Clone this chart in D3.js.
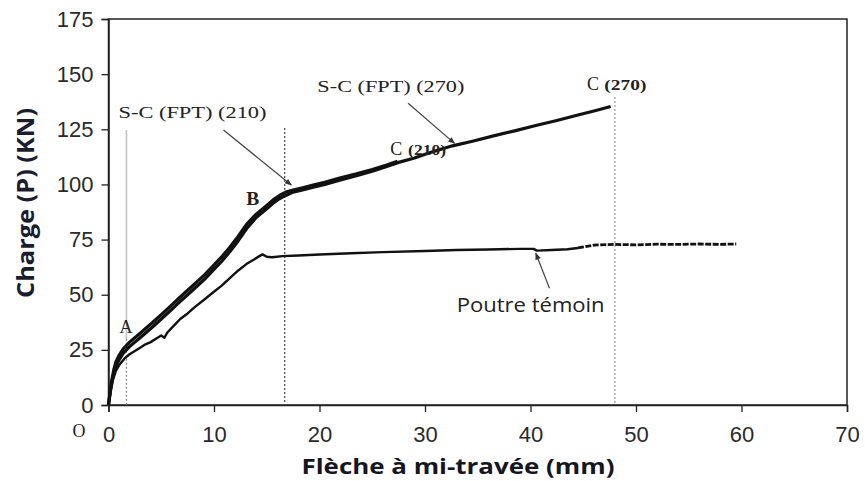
<!DOCTYPE html>
<html>
<head>
<meta charset="utf-8">
<script src="https://cdn.jsdelivr.net/npm/d3@7"></script>
<style>
  html, body { margin: 0; padding: 0; background: #fff; }
  svg { display: block; }
</style>
</head>
<body>
<svg id="chart" width="865" height="481"></svg>
<script>
// ---------- DATA ----------
const xTicks = [0, 10, 20, 30, 40, 50, 60, 70];
const yTicks = [0, 25, 50, 75, 100, 125, 150, 175];

// S-C (FPT) (210)
const defl210 = [0,0.15,0.3,0.5,0.7,1,1.4,2,2.5,3,3.6,4.2,5,5.8,6.7,7.5,8.3,9.1,9.9,10.7,11.5,12.3,13.1,14,15,15.6,16.2,16.8,17.5,18.4,19.4,20.5,22,23.5,25,26.3,27.4];
const load210 = [0,6,11,16,19.5,22.5,25.5,28.5,30.5,32.5,35,37.5,41,44.5,48.5,52,55.5,59,63,67,71.5,76.5,82,86.5,90.5,93,95,96.5,97.5,98.5,99.7,101,103,104.8,106.8,108.7,110.5];

// S-C (FPT) (270)
const defl270 = [0,0.2,0.4,0.7,1,1.4,2,2.5,3,3.6,4.2,5,5.8,6.7,7.5,8.3,9.1,9.9,10.7,11.5,12.3,13.1,14,15,15.6,16.2,16.8,17.5,18.4,19.4,20.5,22,23.5,25,26.3,27.5,29,30.5,32.6,34.5,36.5,38.5,40.5,42.5,44.5,46.2,47.6];
const load270 = [0,7,12.5,17.5,20.5,23.5,26.5,28.5,30.5,33,35.5,39,42.5,46.5,50,53.5,57,61,65,69.5,74.5,80,85,89,91.5,93.5,95,96.5,97.5,98.7,100,102,104,106,108,110,112,114.5,117.5,119.6,122,124.3,126.7,129,131.5,133.5,135.3];

// Poutre témoin (solid part)
const deflCtrl = [0,0.2,0.4,0.7,1,1.5,2,2.5,3,3.5,4,4.5,5,5.3,5.6,6.2,6.8,7.5,8.2,9,9.9,10.7,11.5,12.3,13.1,13.8,14.3,14.6,15,15.5,16.5,18,20,23,26,30,33,36,39,40.3,40.6,42,43.5,44.5];
const loadCtrl = [0,6,11,15.5,18,21,23,24.5,26,27.5,28.5,30,31.5,30.5,33,36,39,41.5,44.5,47.5,51,54,57.5,61,64,66,67.5,68.3,67.2,67,67.5,67.8,68.2,68.8,69.3,69.8,70.3,70.5,70.8,70.8,70,70.3,70.6,71.2];
// Poutre témoin (broken end part)
const deflCtrlEnd = [44.5,46,48,50,52,54,56,58,59.5];
const loadCtrlEnd = [71.2,72.5,72.8,72.6,72.9,72.8,73,72.8,73];

// ---------- CHART ----------
const svg = d3.select("#chart");
const x = d3.scaleLinear().domain([0, 70]).range([108.5, 847]);
const y = d3.scaleLinear().domain([0, 175]).range([405, 19]);

const ink = "#222";

// frame
svg.append("rect")
  .attr("x", x(0)).attr("y", y(175))
  .attr("width", x(70) - x(0)).attr("height", y(0) - y(175))
  .attr("fill", "none").attr("stroke", ink).attr("stroke-width", 1.5);

// axes
const xAxis = d3.axisBottom(x).tickValues(xTicks).tickSize(7).tickPadding(14).tickFormat(d3.format("d"));
const yAxis = d3.axisLeft(y).tickValues(yTicks).tickSize(7).tickPadding(8).tickFormat(d3.format("d"));

const gx = svg.append("g").attr("transform", `translate(0,${y(0)})`).call(xAxis);
const gy = svg.append("g").attr("transform", `translate(${x(0)},0)`).call(yAxis);
[gx, gy].forEach(g => {
  g.select(".domain").attr("stroke", ink).attr("stroke-width", 1.5);
  g.selectAll(".tick line").attr("stroke", ink).attr("stroke-width", 1.3);
  g.selectAll(".tick text")
    .attr("fill", "#2a2a2a")
    .style("font-family", "'Liberation Sans', Arial, sans-serif")
    .style("font-size", "22px");
});

// reference vertical lines
function vline(d, top, bottom, color, dash, w) {
  svg.append("line")
    .attr("x1", x(d)).attr("x2", x(d))
    .attr("y1", y(top)).attr("y2", y(bottom))
    .attr("stroke", color).attr("stroke-width", w)
    .attr("stroke-dasharray", dash);
}
vline(1.7, 124.7, 30, "#c4c4c4", null, 1.6);
vline(1.7, 30, 0, "#888", "2,2", 1.3);
vline(16.7, 125.6, 0, "#555", "2,2", 1.3);
vline(48, 139.6, 0, "#999", "2,2", 1.2);

// curves
const line = d3.line().x(d => x(d[0])).y(d => y(d[1]));
const zip = (a, b) => a.map((v, i) => [v, b[i]]);

svg.append("path").datum(zip(deflCtrl, loadCtrl))
  .attr("d", line).attr("fill", "none").attr("stroke", "#111").attr("stroke-width", 2.4).attr("stroke-linejoin", "round");
svg.append("path").datum(zip(deflCtrlEnd, loadCtrlEnd))
  .attr("d", line).attr("fill", "none").attr("stroke", "#111").attr("stroke-width", 2.8).attr("stroke-dasharray", "6,1.5");
svg.append("path").datum(zip(defl270, load270))
  .attr("d", line).attr("fill", "none").attr("stroke", "#111").attr("stroke-width", 3.2).attr("stroke-linejoin", "round");
svg.append("path").datum(zip(defl210, load210))
  .attr("d", line).attr("fill", "none").attr("stroke", "#111").attr("stroke-width", 3.2).attr("stroke-linejoin", "round");

// arrows
const defs = svg.append("defs");
defs.append("marker").attr("id", "arr")
  .attr("viewBox", "0 0 10 10").attr("refX", 9).attr("refY", 5)
  .attr("markerWidth", 8).attr("markerHeight", 7).attr("orient", "auto")
  .attr("markerUnits", "userSpaceOnUse")
  .append("path").attr("d", "M0,1 L10,5 L0,9 Z").attr("fill", "#333");

function arrow(d1, p1, d2, p2) {
  svg.append("line")
    .attr("x1", x(d1)).attr("y1", y(p1)).attr("x2", x(d2)).attr("y2", y(p2))
    .attr("stroke", "#444").attr("stroke-width", 1.2).attr("marker-end", "url(#arr)");
}
arrow(10.9, 124.7, 17.33, 99.7);
arrow(28.4, 136.8, 32.8, 118.6);
arrow(41.8, 52.9, 40.5, 68.8);

// serif annotations
const serif = "'Liberation Serif', 'Times New Roman', serif";
function label(txt, px, py, size, len, weight) {
  const t = svg.append("text").attr("x", px).attr("y", py)
    .attr("fill", "#222").style("font-family", serif)
    .style("font-size", size + "px").style("font-weight", weight || "normal").text(txt);
  if (len) t.attr("textLength", len).attr("lengthAdjust", "spacingAndGlyphs");
  return t;
}
label("S-C (FPT) (210)", x(0.95), y(130.1), 17, 148);
label("S-C (FPT) (270)", x(19.8), y(142), 17, 147);
label("C", x(45.35), y(142.8), 19, 12);
label("(270)", x(47.0), y(142.8), 14, 42, "bold");
label("C", x(26.7), y(113.3), 19, 12);
label("(210)", x(28.4), y(113.3), 14, 38, "bold");
label("B", x(13.06), y(90.7), 18, 13, "bold");
label("A", x(1.04), y(32.6), 18, 13);
label("O", x(0) - 36, 437, 19, 13);

// Poutre témoin
svg.append("text").attr("x", x(33)).attr("y", y(42.3))
  .attr("fill", "#222").style("font-family", "'Open Sans', sans-serif").style("font-size", "20px")
  .attr("textLength", 148).attr("lengthAdjust", "spacingAndGlyphs")
  .text("Poutre témoin");

// axis titles
svg.append("text").attr("x", 458).attr("y", 474).attr("text-anchor", "middle")
  .attr("fill", "#16161f").style("font-family", "'Open Sans', sans-serif")
  .style("font-size", "22px").style("font-weight", "bold")
  .attr("textLength", 313).attr("lengthAdjust", "spacingAndGlyphs")
  .text("Flèche à mi-travée (mm)");

svg.append("text").attr("transform", "translate(34,203) rotate(-90)")
  .attr("text-anchor", "middle")
  .attr("fill", "#1c1c30").style("font-family", "'Open Sans', sans-serif")
  .style("font-size", "23px").style("font-weight", "bold")
  .attr("textLength", 190).attr("lengthAdjust", "spacingAndGlyphs")
  .text("Charge (P) (KN)");
</script>
</body>
</html>
